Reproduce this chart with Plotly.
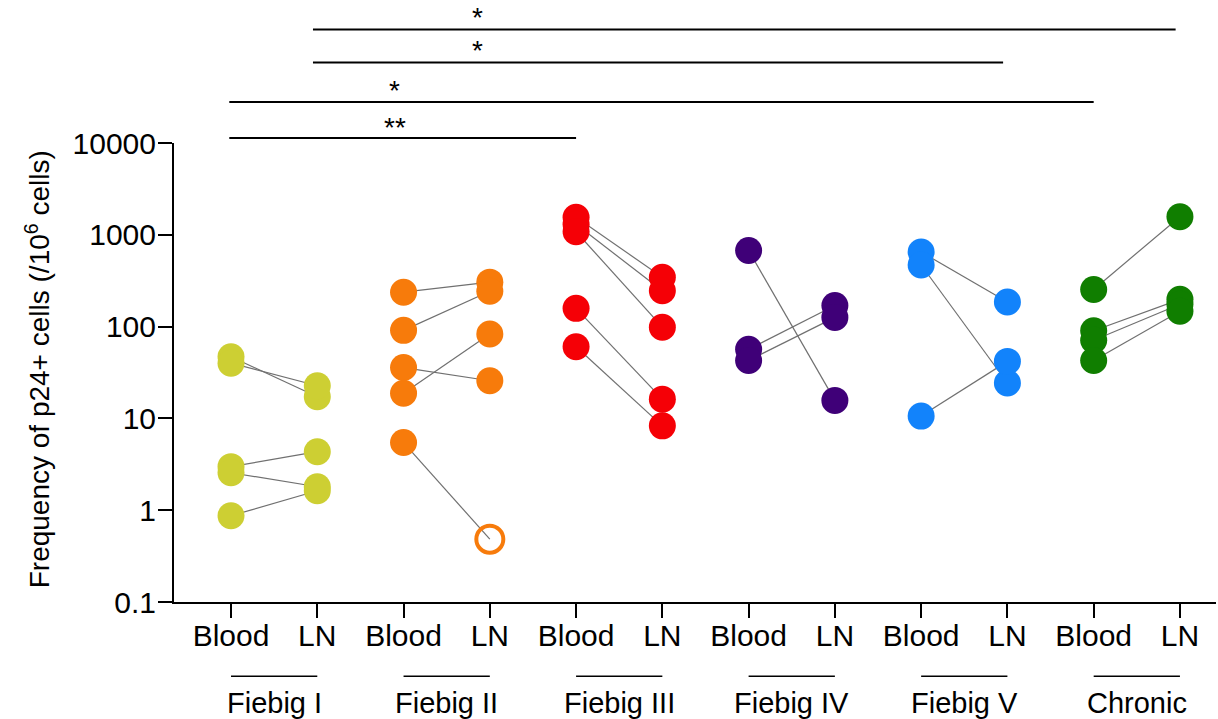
import plotly.graph_objects as go

# ---------------- data ----------------
groups = ["Fiebig I", "Fiebig II", "Fiebig III", "Fiebig IV", "Fiebig V", "Chronic"]
tissues = ["Blood", "LN"]
colors = ["#CDCF33", "#F77B0B", "#F50006", "#3F0078", "#1283FB", "#107E00"]

# paired values (blood[i] <-> ln[i]) per group, p24+ cells / 10^6 cells
blood_fiebig1 = [47, 40, 2.98, 2.56, 0.87]
ln_fiebig1 = [17.2, 22.7, 4.34, 1.8, 1.63]
blood_fiebig2 = [237, 91, 35.8, 18.8, 5.46]
ln_fiebig2 = [305, 243, 25.7, 83, 0.483]
blood_fiebig3 = [1550, 1300, 1080, 158, 60.4]
ln_fiebig3 = [345, 246, 98.5, 16.2, 8.3]
blood_fiebig4 = [675, 56.5, 42.8]
ln_fiebig4 = [15.7, 170, 126]
blood_fiebig5 = [650, 469, 10.6]
ln_fiebig5 = [185, 24.3, 41.8]
blood_chronic = [254, 90, 71, 42.8]
ln_chronic = [1575, 198, 175, 147]

blood_values = [blood_fiebig1, blood_fiebig2, blood_fiebig3, blood_fiebig4, blood_fiebig5, blood_chronic]
ln_values = [ln_fiebig1, ln_fiebig2, ln_fiebig3, ln_fiebig4, ln_fiebig5, ln_chronic]
# LN points below detection (drawn open): group index -> list of point indices
ln_open = {1: [4]}

# significance comparisons: (category index a, category index b, label)
comparisons = [
    (1, 11, "*"),
    (1, 9, "*"),
    (0, 10, "*"),
    (0, 4, "**"),
]

# ---------------- figure ----------------
FONT = "Arial, Liberation Sans, Helvetica, sans-serif"
fig = go.Figure()

tick_vals = []
tick_text = []
for g, name in enumerate(groups):
    xb, xl = 2 * g, 2 * g + 1
    tick_vals += [xb, xl]
    tick_text += tissues
    bx, by = [], []
    for b, l in zip(blood_values[g], ln_values[g]):
        bx += [xb, xl, None]
        by += [b, l, None]
    fig.add_trace(go.Scatter(x=bx, y=by, mode="lines",
                             line=dict(color="#707070", width=1.2),
                             hoverinfo="skip"))
for g, name in enumerate(groups):
    xb, xl = 2 * g, 2 * g + 1
    fig.add_trace(go.Scatter(x=[xb] * len(blood_values[g]), y=blood_values[g],
                             mode="markers", name=name + " Blood",
                             marker=dict(size=27, color=colors[g], line=dict(width=0))))
    opens = ln_open.get(g, [])
    solid_y = [v for i, v in enumerate(ln_values[g]) if i not in opens]
    open_y = [v for i, v in enumerate(ln_values[g]) if i in opens]
    fig.add_trace(go.Scatter(x=[xl] * len(solid_y), y=solid_y,
                             mode="markers", name=name + " LN",
                             marker=dict(size=27, color=colors[g], line=dict(width=0))))
    if open_y:
        fig.add_trace(go.Scatter(x=[xl] * len(open_y), y=open_y,
                                 mode="markers", name=name + " LN (open)",
                                 marker=dict(size=27, symbol="circle-open",
                                             color=colors[g], line=dict(width=4, color=colors[g]))))

# group underline + labels
PLOT_TOP, PLOT_BOT = 142.7, 601.7
H = PLOT_BOT - PLOT_TOP
def py(pix):
    return (PLOT_BOT - pix) / H

for g, name in enumerate(groups):
    xb, xl = 2 * g, 2 * g + 1
    fig.add_shape(type="line", xref="x", yref="paper", x0=xb, x1=xl,
                  y0=py(676), y1=py(676), line=dict(color="black", width=1.5))
    fig.add_annotation(x=(xb + xl) / 2, y=py(703), xref="x", yref="paper",
                       text=name, showarrow=False, xanchor="center", yanchor="middle",
                       font=dict(family=FONT, size=29, color="black"))

# significance brackets
line_pix = [29.3, 62.3, 101.7, 137.7]
star_pix = [17, 49.7, 90, 127]
star_x = [2.86, 2.86, 1.9, 1.9]
for (a, b, lab), lp, sp, sx in zip(comparisons, line_pix, star_pix, star_x):
    x0 = a - 0.05 if a % 2 == 1 else a - 0.02
    x1 = b - 0.05 if b % 2 == 1 else b
    fig.add_shape(type="line", xref="x", yref="paper", x0=x0, x1=x1,
                  y0=py(lp), y1=py(lp), line=dict(color="black", width=2))
    fig.add_annotation(x=sx, y=py(sp), xref="x", yref="paper", text=lab,
                       showarrow=False, xanchor="center", yanchor="middle",
                       font=dict(family=FONT, size=28, color="black"))

# y title
fig.add_annotation(x=(38 - 174) / 1042, y=py(369), xref="paper", yref="paper",
                   text="Frequency of p24+ cells (/10<sup>6</sup> cells)",
                   textangle=-90, showarrow=False, xanchor="center", yanchor="middle",
                   font=dict(family=FONT, size=28, color="black"))

fig.update_layout(
    width=1218, height=719,
    margin=dict(l=174, r=2, t=PLOT_TOP, b=719 - PLOT_BOT),
    plot_bgcolor="white", paper_bgcolor="white",
    showlegend=False,
    font=dict(family=FONT, size=30, color="black"),
    xaxis=dict(range=[-0.661, 11.418], tickmode="array", tickvals=tick_vals,
               ticktext=tick_text, ticks="outside", ticklen=14, tickwidth=1.5,
               tickcolor="black", showline=True, linewidth=2, linecolor="black",
               showgrid=False, zeroline=False, ticklabelstandoff=-8,
               tickfont=dict(family=FONT, size=30, color="black")),
    yaxis=dict(type="log", range=[-1, 4], tickmode="array",
               tickvals=[0.1, 1, 10, 100, 1000, 10000],
               ticktext=["0.1", "1", "10", "100", "1000", "10000"],
               ticks="outside", ticklen=14, tickwidth=2, tickcolor="black",
               showline=True, linewidth=2, linecolor="black",
               showgrid=False, zeroline=False, ticklabelstandoff=-4,
               tickfont=dict(family=FONT, size=30, color="black")),
)

fig.write_html("out.html", config={"displayModeBar": False},
               post_script="document.body.style.margin='0px';document.body.style.padding='0px';")
